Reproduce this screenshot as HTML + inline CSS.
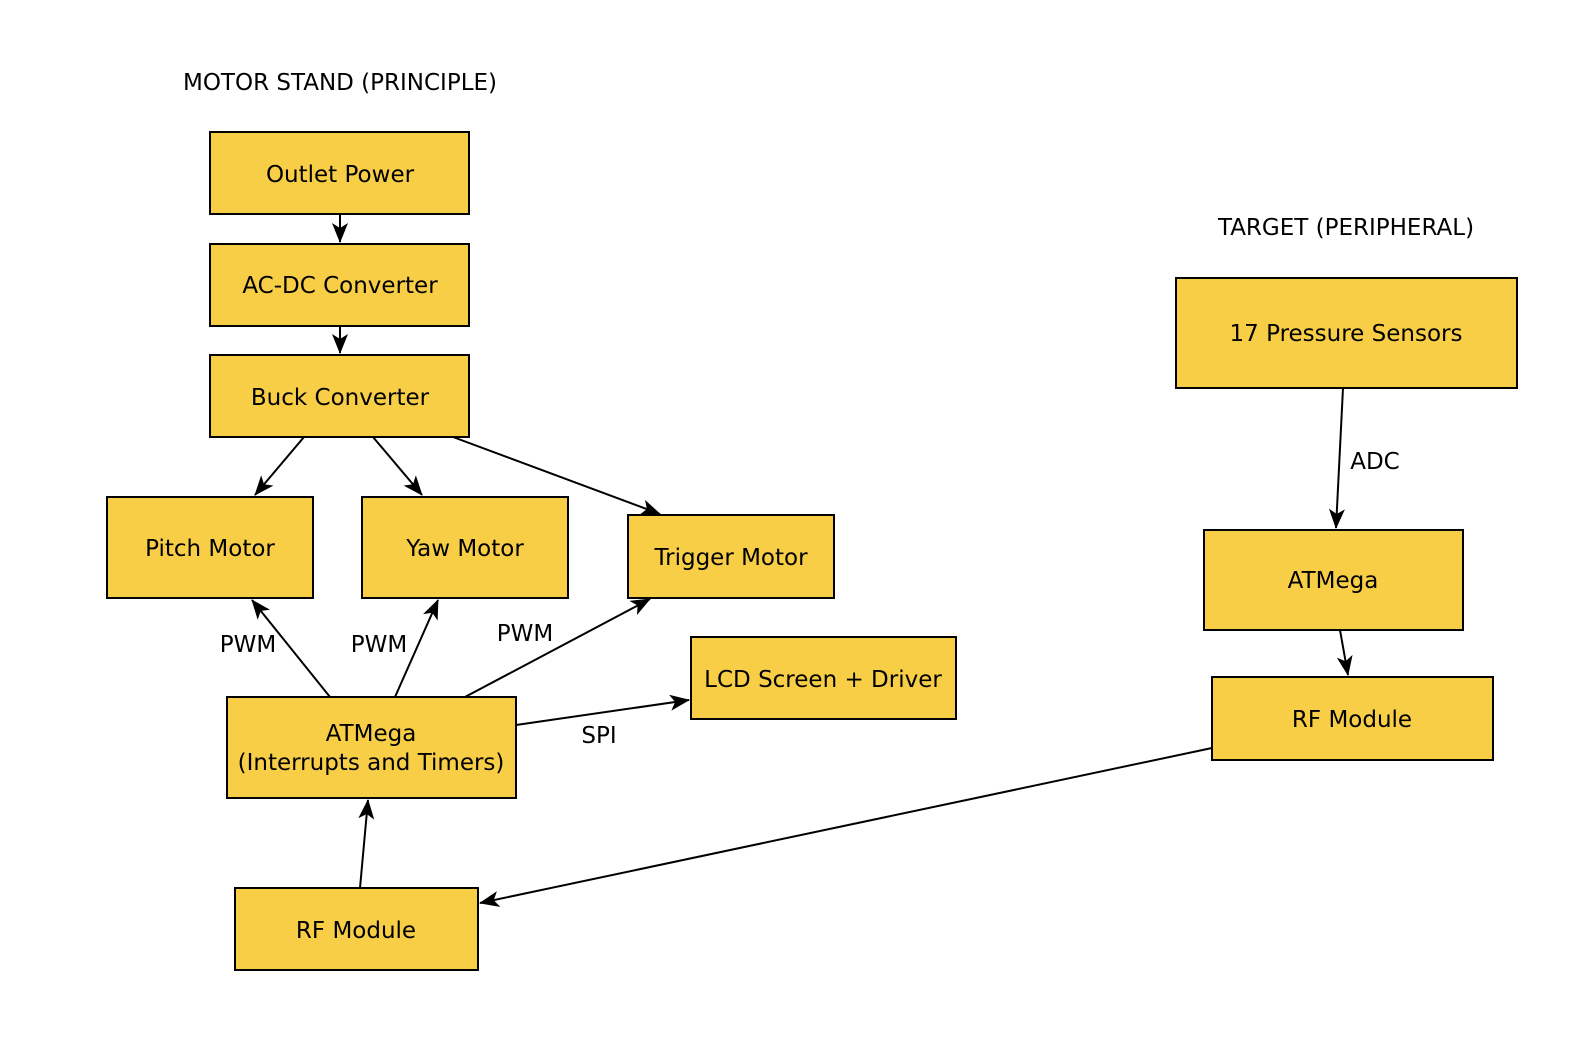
<!DOCTYPE html>
<html><head><meta charset="utf-8"><style>
html,body{margin:0;padding:0;background:#fff;}
svg{display:block;}
text{font-family:"DejaVu Sans","Liberation Sans",sans-serif;font-size:23px;fill:#000;}
</style></head><body>
<svg width="1584" height="1050" viewBox="0 0 1584 1050" xmlns="http://www.w3.org/2000/svg">
<defs>
<marker id="a" viewBox="0 0 20 16" refX="19" refY="8" markerWidth="20" markerHeight="16" markerUnits="userSpaceOnUse" orient="auto">
<path d="M0,0 L20,8 L0,16 L5,8 Z" fill="#000"/>
</marker>
</defs>
<g fill="#F7CE46" stroke="#000" stroke-width="2">
<rect x="210" y="132" width="259" height="82"/>
<rect x="210" y="244" width="259" height="82"/>
<rect x="210" y="355" width="259" height="82"/>
<rect x="107" y="497" width="206" height="101"/>
<rect x="362" y="497" width="206" height="101"/>
<rect x="628" y="515" width="206" height="83"/>
<rect x="691" y="637" width="265" height="82"/>
<rect x="227" y="697" width="289" height="101"/>
<rect x="235" y="888" width="243" height="82"/>
<rect x="1176" y="278" width="341" height="110"/>
<rect x="1204" y="530" width="259" height="100"/>
<rect x="1212" y="677" width="281" height="83"/>
</g>
<g stroke="#000" stroke-width="2" fill="none" marker-end="url(#a)">
<line x1="340" y1="214" x2="340" y2="242"/>
<line x1="340" y1="326" x2="340" y2="353"/>
<line x1="304" y1="437" x2="255" y2="495"/>
<line x1="373" y1="437" x2="422" y2="495"/>
<line x1="453" y1="437" x2="660" y2="514"/>
<line x1="330" y1="697" x2="252" y2="600"/>
<line x1="395" y1="697" x2="438" y2="600"/>
<line x1="465" y1="697" x2="650" y2="599"/>
<line x1="516" y1="725" x2="689" y2="700"/>
<line x1="360" y1="888" x2="368" y2="800"/>
<line x1="1343" y1="388" x2="1336" y2="528"/>
<line x1="1340" y1="630" x2="1348" y2="675"/>
<line x1="1212" y1="748" x2="480" y2="903"/>
</g>
<g text-anchor="middle">
<text x="340" y="90">MOTOR STAND (PRINCIPLE)</text>
<text x="1346" y="235">TARGET (PERIPHERAL)</text>
<text x="340" y="182">Outlet Power</text>
<text x="340" y="293">AC-DC Converter</text>
<text x="340" y="405">Buck Converter</text>
<text x="210" y="556">Pitch Motor</text>
<text x="465" y="556">Yaw Motor</text>
<text x="731" y="565">Trigger Motor</text>
<text x="823" y="687">LCD Screen + Driver</text>
<text x="371" y="741">ATMega</text>
<text x="371" y="770">(Interrupts and Timers)</text>
<text x="356" y="938">RF Module</text>
<text x="1346" y="341">17 Pressure Sensors</text>
<text x="1333" y="588">ATMega</text>
<text x="1352" y="727">RF Module</text>
<text x="248" y="652">PWM</text>
<text x="379" y="652">PWM</text>
<text x="525" y="641">PWM</text>
<text x="599" y="743">SPI</text>
<text x="1375" y="469">ADC</text>
</g>
</svg>
</body></html>
